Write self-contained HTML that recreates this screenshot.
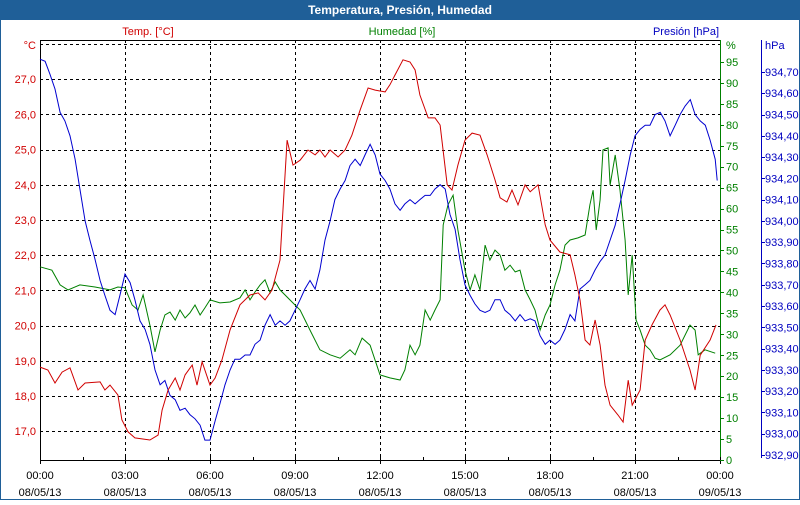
<!DOCTYPE html>
<html><head><meta charset="utf-8"><style>
body{margin:0;width:800px;height:500px;overflow:hidden;background:#fff;font-family:"Liberation Sans","DejaVu Sans",sans-serif}
</style></head><body>
<svg id="chart" width="800" height="500" xmlns="http://www.w3.org/2000/svg" font-family="Liberation Sans, DejaVu Sans, sans-serif" font-size="11">
<rect x="0.5" y="0.5" width="799" height="499" fill="#fff" stroke="#1f5f98"/>
<rect x="0" y="0" width="800" height="20" fill="#1f5f98"/>
<text x="400" y="14" text-anchor="middle" fill="#fff" font-weight="bold" font-size="12">Temperatura, Presión, Humedad</text>
<text x="148" y="35" text-anchor="middle" fill="#d00000">Temp. [°C]</text>
<text x="402" y="35" text-anchor="middle" fill="#008000">Humedad [%]</text>
<text x="686" y="35" text-anchor="middle" fill="#0000c0">Presión [hPa]</text>
<g id="grid"></g>
<g id="axes"></g>
<g id="series"></g>
</svg>
<script>
const xTickLabels=["00:00","03:00","06:00","09:00","12:00","15:00","18:00","21:00","00:00"];
const xDateLabels=["08/05/13","08/05/13","08/05/13","08/05/13","08/05/13","08/05/13","08/05/13","08/05/13","09/05/13"];
const tempTicks=[27,26,25,24,23,22,21,20,19,18,17];
const humTicks=[95,90,85,80,75,70,65,60,55,50,45,40,35,30,25,20,15,10,5,0];
const presTicks=[934.7,934.6,934.5,934.4,934.3,934.2,934.1,934.0,933.9,933.8,933.7,933.6,933.5,933.4,933.3,933.2,933.1,933.0,932.9];

const tempTimes=[0,.28,.53,.78,1.06,1.34,1.59,2.12,2.29,2.47,2.75,2.89,3.11,3.35,3.88,4.17,4.31,4.52,4.77,4.94,5.12,5.37,5.54,5.72,6.0,6.18,6.42,6.71,7.06,7.41,7.70,7.94,8.19,8.47,8.72,8.93,9.18,9.46,9.71,9.88,10.06,10.24,10.52,10.77,11.01,11.30,11.58,11.83,12.18,12.35,12.53,12.81,13.06,13.24,13.41,13.70,13.94,14.12,14.37,14.54,14.75,15.0,15.25,15.53,15.78,16.06,16.24,16.48,16.66,16.87,17.12,17.30,17.58,17.83,18.0,18.35,18.71,18.88,19.06,19.24,19.41,19.59,19.77,19.94,20.12,20.40,20.58,20.76,20.90,21.18,21.36,21.6,21.88,22.06,22.24,22.59,22.94,23.12,23.30,23.65,23.86];
const tempValues=[18.82,18.74,18.37,18.68,18.80,18.17,18.37,18.40,18.17,18.31,18.03,17.32,16.98,16.81,16.75,16.89,17.60,18.17,18.51,18.17,18.60,18.88,18.31,18.97,18.31,18.51,19.02,19.88,20.59,20.87,20.93,20.73,21.01,21.86,25.27,24.56,24.70,24.99,24.85,24.99,24.79,24.99,24.79,24.99,25.41,26.13,26.75,26.69,26.64,26.84,27.12,27.55,27.49,27.26,26.55,25.90,25.90,25.70,24.0,23.85,24.56,25.27,25.47,25.41,24.85,24.14,23.63,23.51,23.85,23.43,24.0,23.80,24.0,22.86,22.43,22.09,22.01,21.44,20.73,19.59,19.45,20.16,19.45,18.31,17.74,17.46,17.26,18.45,17.74,18.17,19.59,20.02,20.44,20.59,20.30,19.59,18.74,18.17,19.16,19.59,20.02];

const humTimes=[0,.42,.71,.99,1.41,1.94,2.47,2.75,3.0,3.25,3.46,3.64,3.88,4.06,4.24,4.41,4.59,4.77,4.94,5.12,5.29,5.47,5.65,5.82,6.0,6.35,6.71,7.06,7.24,7.41,7.59,7.77,7.94,8.12,8.30,8.47,8.82,9.18,9.53,9.88,10.24,10.59,10.94,11.12,11.37,11.65,12.0,12.35,12.71,12.88,13.06,13.24,13.41,13.59,13.77,13.94,14.12,14.23,14.40,14.58,14.75,15.0,15.18,15.35,15.53,15.71,15.88,16.06,16.24,16.41,16.59,16.77,16.94,17.12,17.30,17.47,17.65,17.83,18.0,18.18,18.35,18.53,18.71,18.99,19.24,19.41,19.52,19.63,19.77,19.87,20.05,20.12,20.30,20.47,20.65,20.76,20.90,21.04,21.18,21.36,21.53,21.71,21.88,22.24,22.59,22.94,23.12,23.23,23.47,23.83];
const humValues=[46.1,45.3,41.8,40.6,41.8,41.3,40.6,41.3,41.1,37.0,35.8,39.4,32.2,25.8,31.0,34.6,35.3,33.4,35.8,33.9,35.1,37.0,34.6,36.3,38.2,37.5,37.7,38.7,40.6,38.2,40.1,41.8,43.0,39.9,42.5,40.6,38.2,35.8,31.0,26.3,25.1,24.3,26.3,25.1,29.1,27.4,20.3,19.6,19.1,21.5,27.4,25.1,27.4,35.8,33.4,35.8,38.2,56.1,60.9,63.2,54.9,45.3,40.6,44.2,40.6,51.3,47.7,50.1,48.9,45.3,46.5,44.9,45.3,40.6,38.2,35.8,31.0,34.6,37.0,41.8,45.3,51.3,52.5,53.0,53.7,60.9,64.4,54.9,62.1,74.0,74.5,65.6,72.8,64.4,52.5,39.4,48.9,33.4,31.0,27.4,26.3,24.3,23.9,25.1,27.4,32.2,31.0,25.1,26.3,25.5];

const presTimes=[0,.18,.35,.53,.71,.88,1.06,1.24,1.41,1.59,1.76,1.94,2.12,2.29,2.47,2.65,2.82,3.00,3.18,3.35,3.53,3.71,3.88,4.06,4.24,4.41,4.59,4.77,4.94,5.12,5.29,5.47,5.65,5.82,6.00,6.18,6.35,6.53,6.71,6.88,7.06,7.24,7.41,7.59,7.77,7.94,8.12,8.30,8.47,8.65,8.82,9.00,9.18,9.35,9.53,9.71,9.88,10.06,10.24,10.41,10.59,10.77,10.94,11.12,11.30,11.47,11.65,11.83,12.00,12.18,12.35,12.53,12.71,12.88,13.06,13.24,13.41,13.59,13.77,13.94,14.12,14.30,14.47,14.65,14.82,15.00,15.18,15.35,15.53,15.71,15.88,16.06,16.24,16.41,16.59,16.77,16.94,17.12,17.30,17.47,17.65,17.83,18.00,18.18,18.35,18.53,18.71,18.88,19.06,19.24,19.41,19.59,19.77,19.94,20.12,20.30,20.47,20.65,20.83,21.00,21.18,21.36,21.53,21.71,21.89,22.06,22.24,22.42,22.59,22.77,22.95,23.12,23.30,23.48,23.65,23.83,23.90];
const presValues=[934.76,934.75,934.69,934.62,934.51,934.47,934.40,934.29,934.15,934.00,933.91,933.82,933.72,933.65,933.58,933.56,933.65,933.75,933.71,933.63,933.53,933.49,933.42,933.30,933.23,933.25,933.18,933.16,933.11,933.12,933.09,933.07,933.04,932.97,932.97,933.06,933.14,933.23,933.30,933.35,933.35,933.37,933.37,933.42,933.44,933.51,933.56,933.51,933.53,933.51,933.53,933.58,933.63,933.68,933.72,933.68,933.77,933.91,934.00,934.10,934.15,934.19,934.26,934.29,934.26,934.31,934.36,934.31,934.22,934.19,934.15,934.08,934.05,934.08,934.10,934.08,934.10,934.12,934.12,934.15,934.17,934.15,934.03,933.96,933.82,933.70,933.65,933.61,933.58,933.57,933.58,933.63,933.63,933.58,933.56,933.53,933.56,933.53,933.54,933.53,933.46,933.42,933.44,933.42,933.44,933.49,933.56,933.53,933.68,933.70,933.72,933.77,933.81,933.84,933.91,933.98,934.08,934.19,934.31,934.40,934.43,934.45,934.45,934.50,934.51,934.47,934.40,934.45,934.50,934.54,934.57,934.50,934.47,934.45,934.38,934.29,934.19];

const L=40,R=720,T=40,B=460;
const xs=h=>L+h*(R-L)/24;
const yT=v=>44+(28-v)*35.2;
const yH=v=>460-v*4.19;
const yP=v=>455-(v-932.9)*212.8;
const NS="http://www.w3.org/2000/svg";
function mk(parent,tag,attrs){const e=document.createElementNS(NS,tag);for(const k in attrs)e.setAttribute(k,attrs[k]);parent.appendChild(e);return e;}
const grid=document.getElementById('grid'),axes=document.getElementById('axes'),series=document.getElementById('series');

for(let k=1;k<8;k++){const x=xs(k*3)+0.5;
 const g=mk(grid,'line',{x1:x,y1:T,x2:x,y2:B,stroke:'#000','stroke-dasharray':'3,3'});
 
 }
for(let v=17;v<=28;v++){const y=Math.round(yT(v))+0.5;
 const g=mk(grid,'line',{x1:L,y1:y,x2:R,y2:y,stroke:'#000','stroke-dasharray':'3,3'});
 
 }

let a=mk(axes,'line',{x1:L+.5,y1:T,x2:L+.5,y2:B,stroke:'#000'});
a=mk(axes,'line',{x1:L,y1:T+.5,x2:R,y2:T+.5,stroke:'#000'});
a=mk(axes,'line',{x1:L,y1:B+.5,x2:R,y2:B+.5,stroke:'#000'});
a=mk(axes,'line',{x1:R+.5,y1:T,x2:R+.5,y2:B+1,stroke:'#008000'});
a=mk(axes,'line',{x1:761.5,y1:T,x2:761.5,y2:458,stroke:'#0000c0'});

for(let k=0;k<=16;k++){const x=Math.round(xs(k*1.5))+.5;
 const t=mk(axes,'line',{x1:x,y1:B-3,x2:x,y2:B+(k%2?0:4),stroke:'#000'});
 }
xTickLabels.forEach((s,i)=>{const x=xs(i*3);
 let t=mk(axes,'text',{x:x,y:479,'text-anchor':'middle',fill:'#000'});t.textContent=s;
 
 t=mk(axes,'text',{x:x,y:496,'text-anchor':'middle',fill:'#000'});t.textContent=xDateLabels[i];
 });

let u=mk(axes,'text',{x:36,y:49,'text-anchor':'end',fill:'#d00000'});u.textContent='°C';
tempTicks.forEach(v=>{const t=mk(axes,'text',{x:36,y:yT(v)+4,'text-anchor':'end',fill:'#d00000'});t.textContent=v.toFixed(1).replace('.',',');
 });
u=mk(axes,'text',{x:726,y:49,fill:'#008000'});u.textContent='%';
humTicks.forEach(v=>{const y=yH(v);
 const k=mk(axes,'line',{x1:R,y1:Math.round(y)+.5,x2:R+4,y2:Math.round(y)+.5,stroke:'#008000'});
 const t=mk(axes,'text',{x:726,y:y+4,fill:'#008000'});t.textContent=v;
 });
u=mk(axes,'text',{x:765,y:49,fill:'#0000c0'});u.textContent='hPa';
presTicks.forEach(v=>{const y=yP(v);
 const k=mk(axes,'line',{x1:761,y1:Math.round(y)+.5,x2:765,y2:Math.round(y)+.5,stroke:'#0000c0'});
 const t=mk(axes,'text',{x:765,y:y+4,fill:'#0000c0'});t.textContent=v.toFixed(2).replace('.',',');
 });

function line(times,vals,fy,color,name){
 const d=times.map((t,i)=>(i?'L':'M')+xs(t).toFixed(1)+','+fy(vals[i]).toFixed(1)).join('');
 const p=mk(series,'path',{d:d,fill:'none',stroke:color,'stroke-width':1});
 
 }
line(humTimes,humValues,yH,'#008000','humidity-line');
line(presTimes,presValues,yP,'#0000d0','pressure-line');
line(tempTimes,tempValues,yT,'#d00000','temperature-line');
</script>
</body></html>
